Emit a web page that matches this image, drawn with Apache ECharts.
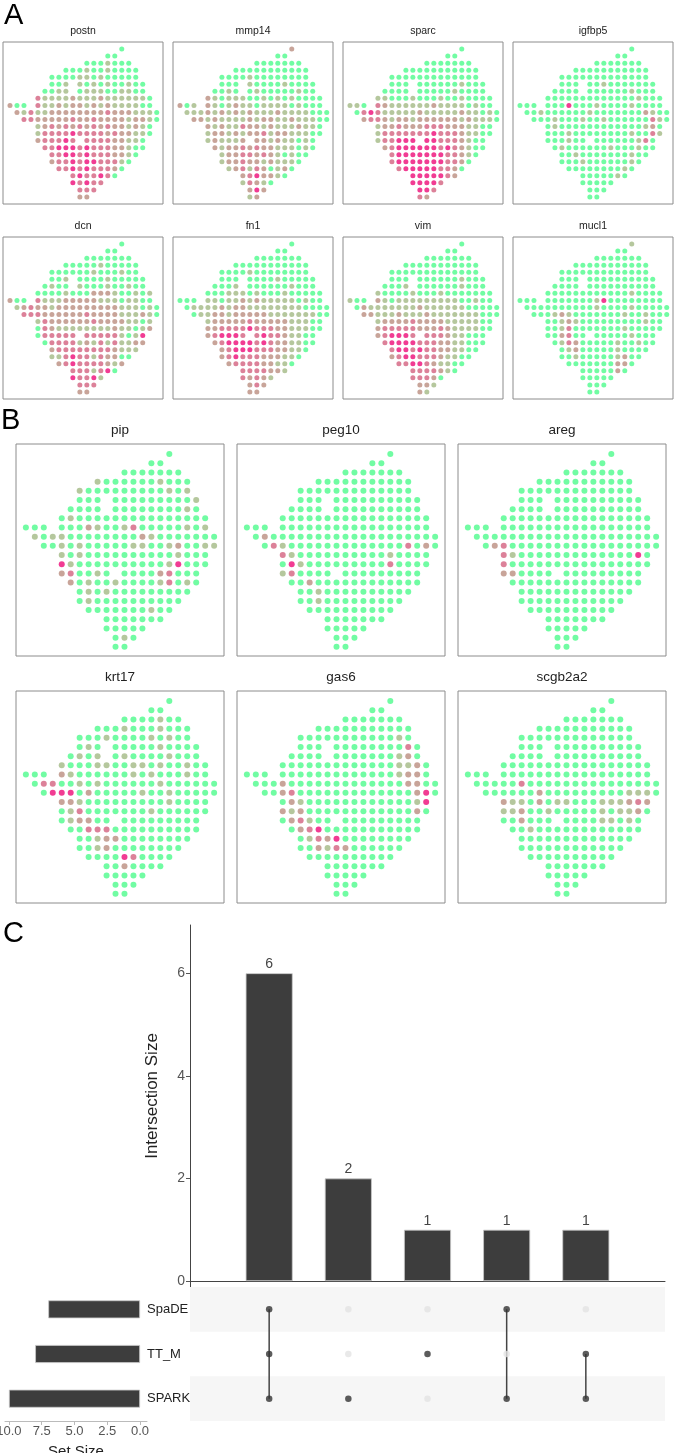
<!DOCTYPE html>
<html><head><meta charset="utf-8">
<script src="https://cdn.jsdelivr.net/npm/echarts@6/dist/echarts.min.js"></script>
<style>html,body{margin:0;padding:0;background:#fff}#c{width:676px;height:1453px}</style>
</head><body><div id="c"></div>
<script>
// tissue spot grid: for each array row, the occupied array columns
const spotRows = ["16","14-15","11-17","8-18","6-18","6-8,10-19","5-8,10-19","4-20","0-2,4-20","1-21","2-21","4-20","4-20","4-9,11-19","5-19","6-18","6-17","7-16","9-15","9-13","10-12","10-11"];
const genesA = ["postn","mmp14","sparc","igfbp5","dcn","fn1","vim","mucl1"];
const genesB = ["pip","peg10","areg","krt17","gas6","scgb2a2"];
// expression level per spot (0 low .. 4 high), one string per array row
const postn = ["0","00","0001000","00010010000","0000110100000","0011010100100","00110111001100","31111211121111110","20031121221212111100","213112222222232221110","33222223223222212210","12323232323221210","13333433332322110","233343333322110","334443433322100","3344343332210","233434433310","3343433320","3433430","43433","333","22"];
const mmp14 = ["2","00","0000000","00000000000","0000100000000","0001000010000","00100100000100","21011100101010000","20121012110111101000","111212121211121111000","22121111212211211100","21211322121112110","12212122312211100","121112221211010","212232322111010","1223323210100","122322121110","1231320120","2342210","13210","242","12"];
const sparc = ["0","00","0000000","00000000000","0000000000000","0000000001000","00000000010000","11000100010010000","11032111111211110100","034311111211111211010","23321221222222121110","12232223332221100","13333333433321100","133444443332100","234444443432100","3444444433210","344444443320","3444443320","4444432","44443","443","32"];
const igfbp5 = ["0","00","0000000","00000000000","0000000000000","0000010000000","00000000001000","00000000000001000","00000040001000010000","001000000100000002100","00010001001000000310","01000000000000120","00010000000010031","000100000000130","010000001000100","0010000000100","000100000010","0000000010","0000010","00000","000","00"];
const dcn = ["0","00","0000000","00000100000","0000001000100","0010000100000","01001000100100","00001000222100101","20031112222211101100","123221222222222111010","33322222232222111210","13222222322221101","03211111111211012","033333333331014","033331213131122","2333333332111","113433132200","2343333212","3331340","43341","333","22"];
const fn1 = ["0","00","0000000","00000000000","0000100000000","0000000100000","00010000001000","00011101000100000","00011011212111110100","011112122111111110000","01122122222111111100","12222232222211100","22333343332211100","234443343321100","234444343221100","2344433322110","234333222110","2333322110","3333221","32321","232","22"];
const vim = ["0","00","0000000","00000000000","0000000000000","0000000001000","00010000001000","10000100010000000","10021011111111100100","021111111211111100000","22111211121111111000","12222322221111100","23333322232111100","234443333211000","344443332211000","3443433221100","234433321100","3344321100","3333210","33320","221","21"];
const mucl1 = ["1","00","0000000","00000000000","0000000000000","0000000000000","00000000000000","00000000000010000","00000000001400000000","000000000010000100000","00012100000001001000","00121000000000100","00130000000100000","002300000001000","013200000100100","0120000010000","001000001200","0000000220","0000020","00000","000","00"];
const pip = ["0","00","0000000","10000001000","1000000000101","0000000000001","00000000000010","01000000000000000","00000021001300000101","101100000000210000000","00101000001100120011","10100000000001000","41000000000014000","230010000023000","201001000013010","0101000000000","010000000000","0000000100","0000000","00000","010","00"];
const peg10 = ["0","00","0000000","00000000000","0000000000000","0000000000000","00000000000000","00000000000000000","00000000000000000000","020000000000000000000","03100000000000003020","31000000000010000","04100000000030000","130000000000000","002000000000000","0010000000000","001000000000","0000000000","0000000","00000","000","00"];
const areg = ["0","00","0000000","00000000000","0000000000000","0000000000000","00000000000000","00000000000000000","00000000000000000000","000000000000000000000","02300000000000000000","31000000000000040","30000000000000000","220000000000000","000000000000000","0000000000000","000000000000","0000000000","0000000","00000","000","00"];
const krt17 = ["0","00","0000100","00010001000","0001000010100","0100000010000","01010100001000","10001100110100100","00021000000101000100","033001010000001000000","04440200000100100000","22100000000010000","01300000001000000","012200000000000","003330000000000","0012200000000","001200000000","0000430000","0020000","00000","000","00"];
const gas6 = ["0","00","0000000","00000000000","0000000000010","0000000000030","00000000000120","00000000000001120","00000000000000001220","000200000000000002200","00230000000000000240","02100000000000014","21200000000000020","023100000000000","023400000000000","0132400000000","002132000000","0000000000","0000000","00000","000","00"];
const scgb2a2 = ["0","00","0000000","00000000000","0000000000000","0000000000000","00000000000000","00000000000000000","00000000000000000000","000003000000000000000","00000020000000001110","21102011000111232","11200100000101120","002000000011010","001000000000000","0000000000000","000000000000","0000000000","0000000","00000","000","00"];
const exprByGene = {postn, mmp14, sparc, igfbp5, dcn, fn1, vim, mucl1, pip, peg10, areg, krt17, gas6, scgb2a2};

// UpSet data
const setNames = ["SPARK","TT_M","SpaDE"];
const setSizes = [10, 8, 7];
const intersectionSizes = [6, 2, 1, 1, 1];
// membership per intersection: [SpaDE, TT_M, SPARK]
const membership = [[1,1,1],[0,0,1],[0,1,0],[1,0,1],[0,1,1]];
const intersectionTicks = [0, 2, 4, 6];
const setSizeTicks = [0, 2.5, 5, 7.5, 10];

const FONT = "'Liberation Sans', Arial, sans-serif";
const rowCols = spotRows.map(s => {
  const cols = [];
  s.split(',').forEach(p => { const [a, b] = p.split('-').map(Number); for (let c = a; c <= (isNaN(b) ? a : b); c++) cols.push(c); });
  return cols;
});
function spots(levels) {
  const out = [];
  rowCols.forEach((cols, r) => cols.forEach((c, i) => {
    const ch = levels[r][i];
    out.push([c, r, ch === undefined ? 0 : +ch]);
  }));
  return out;
}

const grids = [], xAxes = [], yAxes = [], series = [], graphics = [];
const spotSeriesIdx = [];
function addPanel(gene, left, top, w, h, xr, yr, sym, titleY, titleSize) {
  const gi = grids.length;
  grids.push({left, top, width: w, height: h, show: true, borderColor: '#8c8c8c', borderWidth: 1, backgroundColor: '#fff', containLabel: false, outerBoundsMode: 'none'});
  xAxes.push({gridIndex: gi, type: 'value', min: xr[0], max: xr[1], show: false});
  yAxes.push({gridIndex: gi, type: 'value', inverse: true, min: yr[0], max: yr[1], show: false});
  spotSeriesIdx.push(series.length);
  series.push({type: 'scatter', xAxisIndex: gi, yAxisIndex: gi, symbolSize: sym, data: spots(exprByGene[gene]), silent: true, animation: false});
  graphics.push({type: 'text', x: left + w / 2, y: titleY, style: {text: gene, fontSize: titleSize, fontFamily: FONT, fill: '#222', align: 'center', verticalAlign: 'middle'}});
}
const aLefts = [3, 173, 343, 513], aTops = [42, 237];
genesA.forEach((g, i) => addPanel(g, aLefts[i % 4], aTops[Math.floor(i / 4)], 160, 162, [-1, 21.9], [-1, 22], 5, [31, 226][Math.floor(i / 4)], 10.5));
const bLefts = [16, 237, 458], bTops = [444, 691];
genesB.forEach((g, i) => addPanel(g, bLefts[i % 3], bTops[Math.floor(i / 3)], 208, 212, [-1.1, 22.1], [-1.1, 22], 6, [430, 677][Math.floor(i / 3)], 13.5));

// intersection size bars
const gBar = grids.length;
grids.push({left: 190, top: 925, width: 475, height: 373, outerBoundsMode: 'none'});
xAxes.push({gridIndex: gBar, type: 'value', min: 0, max: 6, axisLine: {show: true, onZero: true, lineStyle: {color: '#444', width: 1}}, axisTick: {show: false}, axisLabel: {show: false}, splitLine: {show: false}});
yAxes.push({gridIndex: gBar, type: 'value', min: -0.33, max: 6.94, axisLine: {show: true, lineStyle: {color: '#444', width: 1}},
  axisTick: {show: true, length: 4, customValues: intersectionTicks, lineStyle: {color: '#555'}},
  axisLabel: {customValues: intersectionTicks, color: '#555', fontSize: 14, fontFamily: FONT, margin: 5},
  splitLine: {show: false}});
series.push({type: 'bar', xAxisIndex: gBar, yAxisIndex: gBar, barWidth: 47, animation: false,
  data: intersectionSizes.map((v, i) => [i + 1, v]),
  itemStyle: {color: '#3d3d3d', borderColor: '#c8c8c8', borderWidth: 0.8},
  label: {show: true, position: 'top', distance: 2, color: '#444', fontSize: 14, fontFamily: FONT, formatter: p => p.value[1]}});
graphics.push({type: 'text', x: 152, y: 1096, rotation: Math.PI / 2,
  style: {text: 'Intersection Size', fontSize: 17, fontFamily: FONT, fill: '#222', align: 'center', verticalAlign: 'middle'}});

// matrix
const gM = grids.length;
grids.push({left: 190, top: 1287, width: 475, height: 134, outerBoundsMode: 'none'});
xAxes.push({gridIndex: gM, type: 'value', min: 0, max: 6, show: false});
yAxes.push({gridIndex: gM, type: 'value', min: 0, max: 3, show: false});
const rowY = {SpaDE: 2.5, TT_M: 1.5, SPARK: 0.5};
const order = ["SpaDE", "TT_M", "SPARK"];
const dots = [];
membership.forEach((m, i) => m.forEach((on, j) => dots.push([i + 1, rowY[order[j]], on])));
series.push({type: 'scatter', xAxisIndex: gM, yAxisIndex: gM, symbolSize: 6.5, z: 5, animation: false, silent: true,
  data: dots, itemStyle: {color: p => p.value[2] ? '#333333' : '#e4e4e4'},
  markArea: {silent: true, itemStyle: {color: '#f6f6f6'}, data: [[{yAxis: 2}, {yAxis: 3}], [{yAxis: 0}, {yAxis: 1}]]}});
membership.forEach((m, i) => {
  const ys = m.map((on, j) => on ? rowY[order[j]] : null).filter(v => v !== null);
  if (ys.length > 1) series.push({type: 'line', xAxisIndex: gM, yAxisIndex: gM, symbol: 'none', z: 4, animation: false, silent: true,
    data: [[i + 1, Math.max(...ys)], [i + 1, Math.min(...ys)]], lineStyle: {color: '#444', width: 1.5}});
});

// set size bars
const gS = grids.length;
grids.push({left: 5, top: 1287, width: 142, height: 134, outerBoundsMode: 'none'});
xAxes.push({gridIndex: gS, type: 'value', inverse: true, min: -0.53, max: 10.3,
  axisLine: {show: true, onZero: false, lineStyle: {color: '#bbbbbb', width: 1}},
  axisTick: {show: true, length: 4, customValues: setSizeTicks, lineStyle: {color: '#bbbbbb'}},
  axisLabel: {customValues: setSizeTicks, formatter: v => Number(v).toFixed(1), color: '#555', fontSize: 13, fontFamily: FONT, margin: 4},
  splitLine: {show: false}, name: 'Set Size', nameLocation: 'middle', nameGap: 23, nameTextStyle: {fontSize: 15, color: '#222', fontFamily: FONT}});
yAxes.push({gridIndex: gS, type: 'category', data: setNames, position: 'right', axisLine: {show: false}, axisTick: {show: false},
  axisLabel: {color: '#222', fontSize: 13, fontFamily: FONT, margin: 0}});
series.push({type: 'bar', xAxisIndex: gS, yAxisIndex: gS, barWidth: 18, data: setSizes, animation: false,
  itemStyle: {color: '#3d3d3d', borderColor: '#c8c8c8', borderWidth: 0.8}});

// panel letters
[['A', 4, 16], ['B', 1, 421], ['C', 3, 934]].forEach(([t, x, y]) => graphics.push({type: 'text', x, y,
  style: {text: t, fontSize: 29, fontFamily: FONT, fill: '#000', align: 'left', verticalAlign: 'middle'}}));

const chart = echarts.init(document.getElementById('c'), null, {renderer: 'canvas'});
chart.setOption({
  animation: false,
  backgroundColor: '#fff',
  grid: grids, xAxis: xAxes, yAxis: yAxes, series,
  visualMap: [{type: 'continuous', show: false, min: 0, max: 4, dimension: 2, seriesIndex: spotSeriesIdx,
    inRange: {color: ['#4dfb8c', '#a2b984', '#ba8d80', '#d3617f', '#ee0b78']}}],
  graphic: graphics
});
</script></body></html>
